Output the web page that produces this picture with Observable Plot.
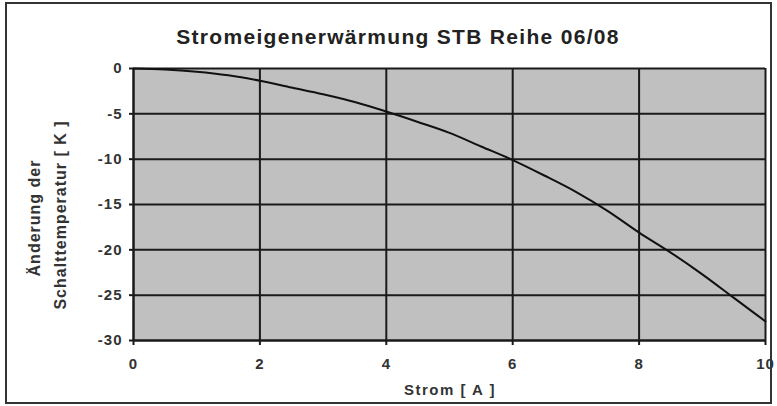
<!DOCTYPE html>
<html>
<head>
<meta charset="utf-8">
<script src="https://cdn.jsdelivr.net/npm/d3@7"></script>
<script src="https://cdn.jsdelivr.net/npm/@observablehq/plot@0.6"></script>
<style>
body { margin: 0; background: #fff; }
svg { display: block; }
g[aria-label$="tick label"] text { letter-spacing: 1px; }
</style>
</head>
<body>
<div id="chart"></div>
<script>
const title = "Stromeigenerwärmung STB Reihe 06/08";
const xLabel = "Strom [ A ]";
const yLabelLines = ["Änderung der", "Schalttemperatur [ K ]"];
const xTicks = [0, 2, 4, 6, 8, 10];
const yTicks = [0, -5, -10, -15, -20, -25, -30];
const current = [0, 0.5, 1, 1.5, 2, 2.5, 3, 3.5, 4, 4.5, 5, 5.5, 6, 6.5, 7, 7.5, 8, 8.5, 9, 9.5, 10];
const deltaT = [0, -0.1, -0.35, -0.75, -1.35, -2.1, -2.85, -3.7, -4.75, -5.9, -7.1, -8.6, -10.1, -11.8, -13.6, -15.7, -18.1, -20.3, -22.7, -25.3, -27.9];

const data = current.map((x, i) => ({x, y: deltaT[i]}));
const font = "'Liberation Sans', Arial, sans-serif";

const plot = Plot.plot({
  width: 777,
  height: 406,
  marginLeft: 133,
  marginRight: 12,
  marginTop: 68,
  marginBottom: 66,
  style: {fontFamily: font, fontSize: "15px", background: "#fff", color: "#222"},
  x: {domain: [0, 10], ticks: xTicks, label: null},
  y: {domain: [-30, 0], ticks: yTicks, label: null},
  marks: [
    Plot.frame({fill: "#c0c0c0"}),
    Plot.gridX(xTicks, {stroke: "#1a1a1a", strokeOpacity: 1, strokeWidth: 2}),
    Plot.gridY(yTicks, {stroke: "#1a1a1a", strokeOpacity: 1, strokeWidth: 2}),
    Plot.axisX({ticks: xTicks, tickSize: 5, tickPadding: 13, tickFormat: d => String(d), fontWeight: "bold", fontSize: 15, stroke: "#1a1a1a", strokeWidth: 2, fill: "#333", label: null}),
    Plot.axisY({ticks: yTicks, tickSize: 4, tickPadding: 7, tickFormat: d => String(d), fontWeight: "bold", fontSize: 15, stroke: "#1a1a1a", strokeWidth: 2, fill: "#333", label: null}),
    Plot.ruleX([0], {stroke: "#1a1a1a", strokeWidth: 2}),
    Plot.ruleY([-30], {stroke: "#1a1a1a", strokeWidth: 2}),
    Plot.line(data, {x: "x", y: "y", stroke: "#111", strokeWidth: 2, curve: "monotone-x"})
  ]
});

const svg = d3.select(plot);
svg.append("rect")
  .attr("x", 6).attr("y", 3).attr("width", 765).attr("height", 400)
  .attr("fill", "none").attr("stroke", "#333").attr("stroke-width", 2);

function label(sel) {
  return sel.attr("font-family", font).attr("font-weight", "bold").attr("fill", "#222");
}
label(svg.append("text"))
  .attr("x", 398).attr("y", 44).attr("text-anchor", "middle")
  .attr("font-size", 21).attr("letter-spacing", "1.3px")
  .text(title);
label(svg.append("text"))
  .attr("x", 450).attr("y", 395).attr("text-anchor", "middle")
  .attr("font-size", 15).attr("letter-spacing", "1.5px").attr("fill", "#333")
  .text(xLabel);
yLabelLines.forEach((t, i) => {
  label(svg.append("text"))
    .attr("transform", `translate(${40 + i * 26},${i === 0 ? 218 : 215}) rotate(-90)`)
    .attr("text-anchor", "middle")
    .attr("font-size", 16).attr("letter-spacing", "1px").attr("fill", "#333")
    .text(t);
});
document.getElementById("chart").appendChild(plot);
</script>
</body>
</html>
